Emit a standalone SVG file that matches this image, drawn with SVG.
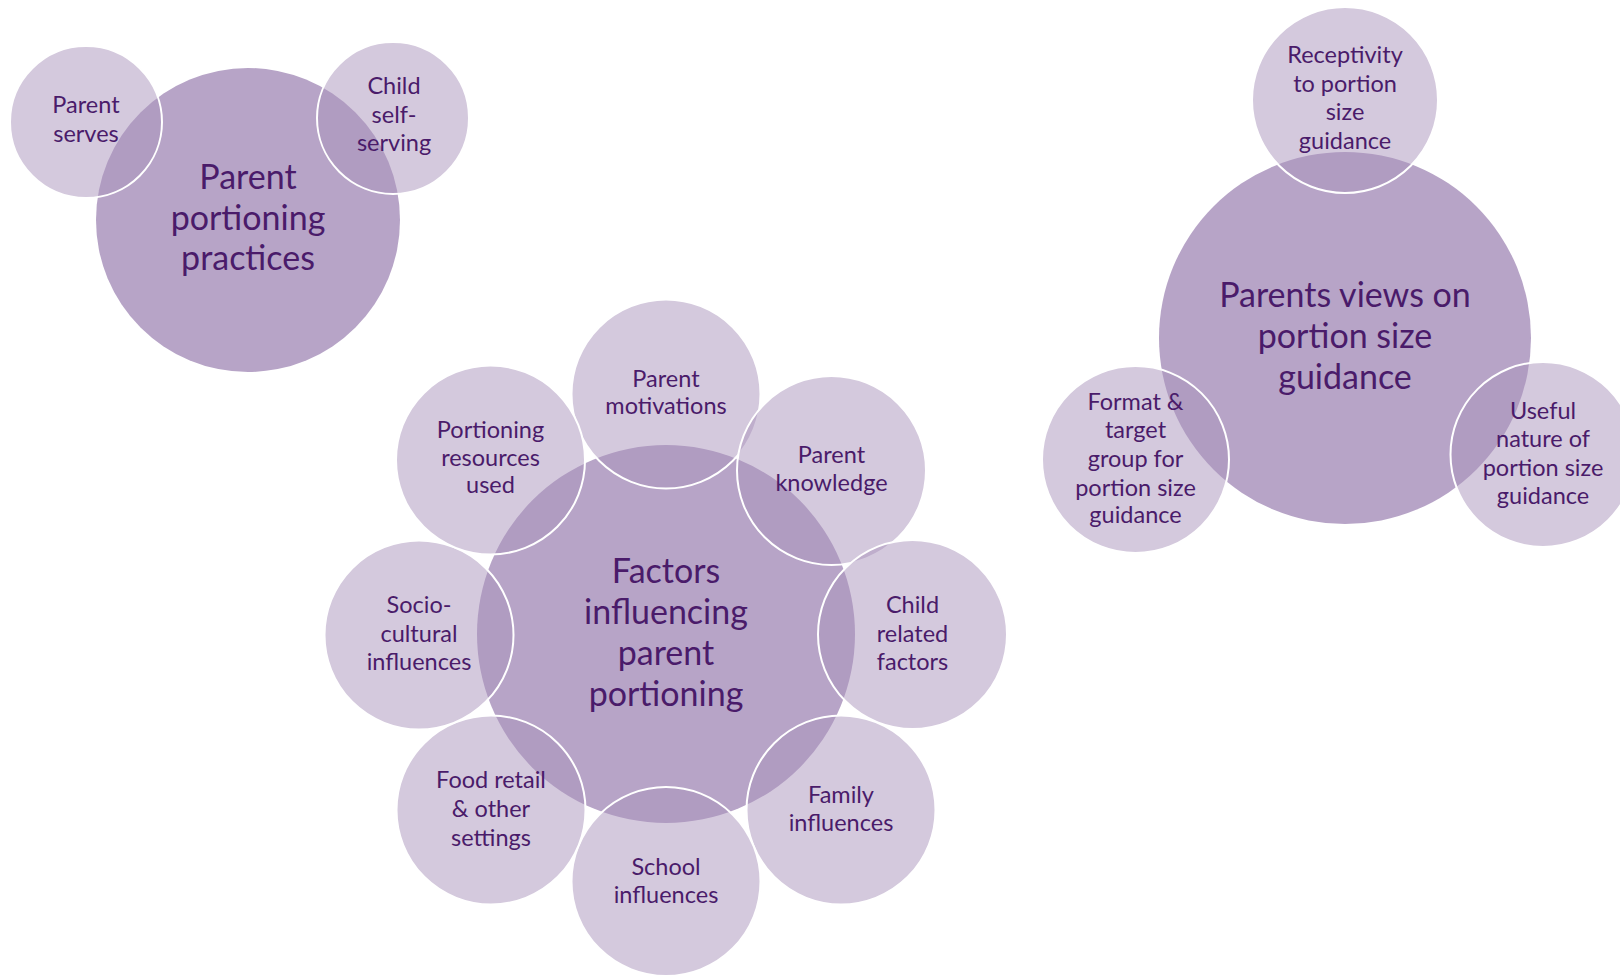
<svg xmlns="http://www.w3.org/2000/svg" width="1620" height="976" viewBox="0 0 1620 976">
  <style>
    .main { fill: #B7A4C7; }
    .sat { fill: #A993BB; fill-opacity: 0.5; stroke: #FFFFFF; stroke-width: 2; }
    .t { font-family: Lato, "Open Sans", "Liberation Sans", sans-serif; fill: #4A1B6A; text-anchor: middle; }
    .big { font-size: 34px; }
    .small { font-size: 23.5px; }
  </style>
  <rect width="1620" height="976" fill="#FFFFFF"/>

  <!-- Cluster 1: parent portioning practices -->
  <g id="parent-portioning-practices">
    <circle class="main" cx="248" cy="220" r="152"/>
    <text class="t big" x="248" y="189">Parent</text>
    <text class="t big" x="248" y="229.5">portioning</text>
    <text class="t big" x="248" y="270">practices</text>
  </g>
  <g id="parent-serves">
    <circle class="sat" cx="86" cy="122" r="76"/>
    <text class="t small" x="86" y="113">Parent</text>
    <text class="t small" x="86" y="141.5">serves</text>
  </g>
  <g id="child-self-serving">
    <circle class="sat" cx="393" cy="118" r="76"/>
    <text class="t small" x="394" y="94">Child</text>
    <text class="t small" x="394" y="122.5">self-</text>
    <text class="t small" x="394" y="151">serving</text>
  </g>

  <!-- Cluster 2: factors influencing parent portioning -->
  <g id="factors-influencing">
    <circle class="main" cx="666" cy="634" r="189"/>
    <text class="t big" x="666" y="583">Factors</text>
    <text class="t big" x="666" y="624">influencing</text>
    <text class="t big" x="666" y="665">parent</text>
    <text class="t big" x="666" y="706">portioning</text>
  </g>
  <g id="parent-motivations">
    <circle class="sat" cx="666" cy="394" r="94.5"/>
    <text class="t small" x="666" y="387">Parent</text>
    <text class="t small" x="666" y="414">motivations</text>
  </g>
  <g id="parent-knowledge">
    <circle class="sat" cx="831.5" cy="470.5" r="94.5"/>
    <text class="t small" x="831.5" y="463">Parent</text>
    <text class="t small" x="831.5" y="491">knowledge</text>
  </g>
  <g id="child-related-factors">
    <circle class="sat" cx="912.5" cy="634.5" r="94.5"/>
    <text class="t small" x="912.5" y="613">Child</text>
    <text class="t small" x="912.5" y="641.5">related</text>
    <text class="t small" x="912.5" y="670">factors</text>
  </g>
  <g id="family-influences">
    <circle class="sat" cx="841" cy="810" r="94.5"/>
    <text class="t small" x="841" y="803">Family</text>
    <text class="t small" x="841" y="831">influences</text>
  </g>
  <g id="school-influences">
    <circle class="sat" cx="666" cy="881.5" r="94.5"/>
    <text class="t small" x="666" y="875">School</text>
    <text class="t small" x="666" y="903">influences</text>
  </g>
  <g id="food-retail">
    <circle class="sat" cx="491" cy="810" r="94.5"/>
    <text class="t small" x="491" y="788">Food retail</text>
    <text class="t small" x="491" y="817">&amp; other</text>
    <text class="t small" x="491" y="846">settings</text>
  </g>
  <g id="socio-cultural">
    <circle class="sat" cx="419" cy="635" r="94.5"/>
    <text class="t small" x="419" y="613">Socio-</text>
    <text class="t small" x="419" y="642">cultural</text>
    <text class="t small" x="419" y="670">influences</text>
  </g>
  <g id="portioning-resources">
    <circle class="sat" cx="490.5" cy="460" r="94.5"/>
    <text class="t small" x="490.5" y="438">Portioning</text>
    <text class="t small" x="490.5" y="466">resources</text>
    <text class="t small" x="490.5" y="493">used</text>
  </g>

  <!-- Cluster 3: parents views on portion size guidance -->
  <g id="parents-views">
    <circle class="main" cx="1345" cy="338" r="186"/>
    <text class="t big" x="1345" y="307">Parents views on</text>
    <text class="t big" x="1345" y="348">portion size</text>
    <text class="t big" x="1345" y="389">guidance</text>
  </g>
  <g id="receptivity">
    <circle class="sat" cx="1345" cy="100" r="93"/>
    <text class="t small" x="1345" y="63">Receptivity</text>
    <text class="t small" x="1345" y="92">to portion</text>
    <text class="t small" x="1345" y="120">size</text>
    <text class="t small" x="1345" y="149">guidance</text>
  </g>
  <g id="format-target-group">
    <circle class="sat" cx="1135.5" cy="459.5" r="93.5"/>
    <text class="t small" x="1135.5" y="410">Format &amp;</text>
    <text class="t small" x="1135.5" y="438">target</text>
    <text class="t small" x="1135.5" y="467">group for</text>
    <text class="t small" x="1135.5" y="496">portion size</text>
    <text class="t small" x="1135.5" y="523">guidance</text>
  </g>
  <g id="useful-nature">
    <circle class="sat" cx="1543" cy="454.5" r="92.5"/>
    <text class="t small" x="1543" y="419">Useful</text>
    <text class="t small" x="1543" y="447">nature of</text>
    <text class="t small" x="1543" y="476">portion size</text>
    <text class="t small" x="1543" y="504">guidance</text>
  </g>
</svg>
